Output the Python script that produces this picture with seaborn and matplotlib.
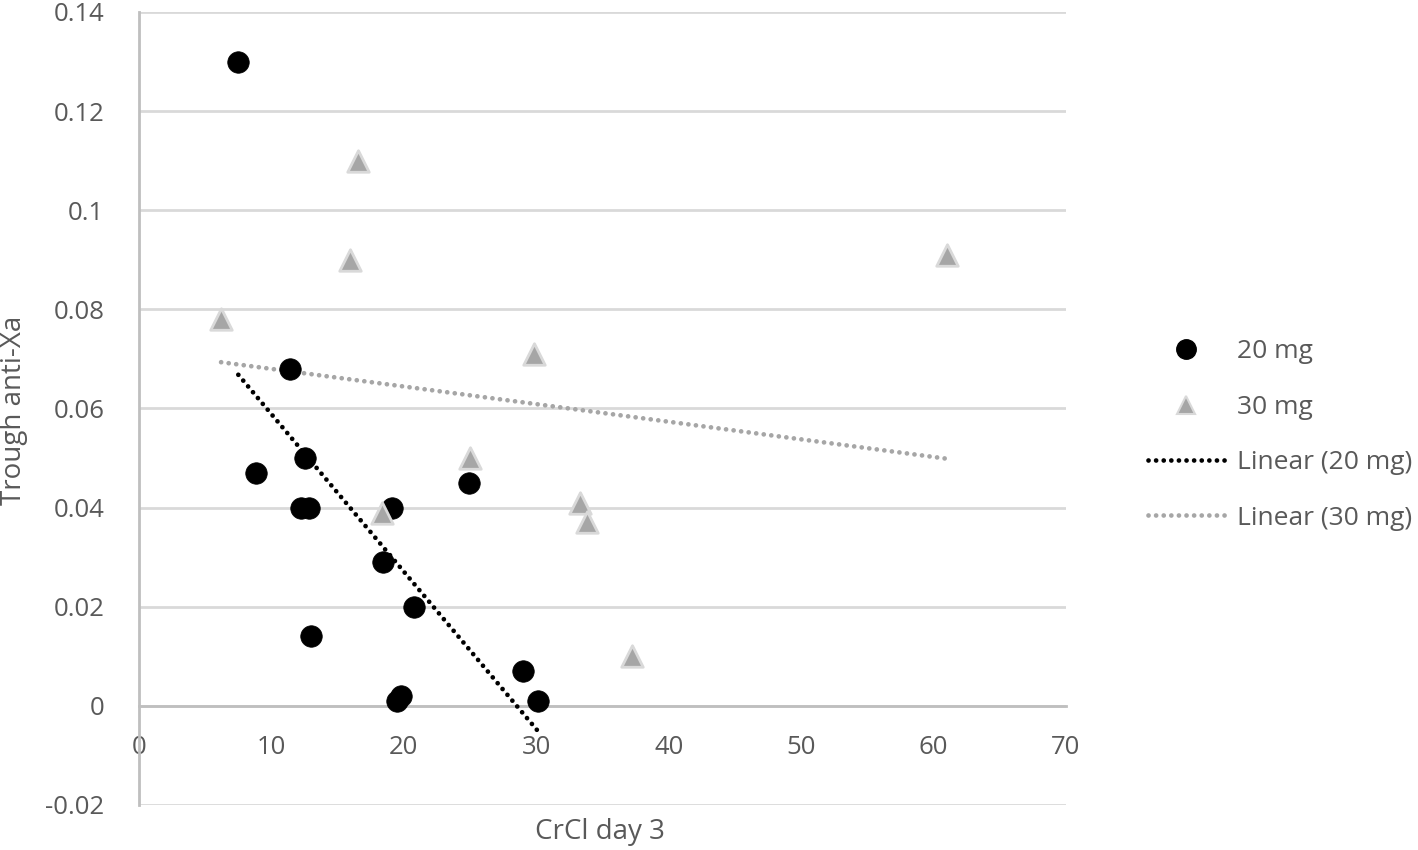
import numpy as np
import pandas as pd
import matplotlib
matplotlib.use("Agg")
import matplotlib.pyplot as plt
import seaborn as sns
from matplotlib.lines import Line2D

# 20 mg group
crcl_20 = [7.5, 11.4, 8.8, 12.5, 12.2, 12.8, 19.1, 18.4, 20.8, 13.0, 19.5, 19.8, 24.9, 29.0, 30.1]
xa_20 = [0.130, 0.068, 0.047, 0.050, 0.040, 0.040, 0.040, 0.029, 0.020, 0.014, 0.001, 0.002, 0.045, 0.007, 0.001]

# 30 mg group
crcl_30 = [6.2, 16.5, 15.9, 18.35, 25.0, 29.8, 33.3, 33.8, 37.2, 61.0]
xa_30 = [0.078, 0.110, 0.090, 0.039, 0.050, 0.071, 0.041, 0.037, 0.010, 0.091]

x_ticks = [0, 10, 20, 30, 40, 50, 60, 70]
y_ticks = [-0.02, 0, 0.02, 0.04, 0.06, 0.08, 0.1, 0.12, 0.14]
y_tick_labels = ["-0.02", "0", "0.02", "0.04", "0.06", "0.08", "0.1", "0.12", "0.14"]
legend_labels = ["20 mg", "30 mg", "Linear (20 mg)", "Linear (30 mg)"]

df20 = pd.DataFrame({"CrCl": crcl_20, "Xa": xa_20})
df30 = pd.DataFrame({"CrCl": crcl_30, "Xa": xa_30})

def trend(df):
    m, b = np.polyfit(df["CrCl"], df["Xa"], 1)
    xs = np.array([df["CrCl"].min(), df["CrCl"].max()])
    return pd.DataFrame({"CrCl": xs, "Xa": m * xs + b})

t20 = trend(df20)
t30 = trend(df30)

sns.set_theme(style="white")
plt.rcParams['font.family'] = ['Open Sans', 'DejaVu Sans']

TXT = "#595959"
AX = "#bfbfbf"
GRID = "#d9d9d9"
DOT = (0, (0.01, 1.6))
LW = 3.4

fig = plt.figure(figsize=(14.18, 8.5), dpi=100)
ax = fig.add_axes([139/1418, 45/850, (1066-139)/1418, (805-12)/850])

ax.set_xlim(0, 70)
ax.set_ylim(-0.02, 0.14)
ax.set_yticks(y_ticks)
ax.set_yticklabels(y_tick_labels)
ax.set_xticks(x_ticks)
ax.set_xticklabels([str(v) for v in x_ticks])
ax.yaxis.grid(True, color=GRID, lw=2, zorder=0)
ax.set_axisbelow(True)

for s in ["top", "right"]:
    ax.spines[s].set_visible(False)
ax.spines["left"].set_color(AX)
ax.spines["left"].set_linewidth(2)
ax.spines["bottom"].set_position(("data", 0))
ax.spines["bottom"].set_color(AX)
ax.spines["bottom"].set_linewidth(2)

ax.tick_params(axis="x", direction="out", length=8, width=2, color=AX,
               labelcolor=TXT, labelsize=18.5, pad=13)
ax.tick_params(axis="y", direction="out", length=9, width=2, color=AX,
               labelcolor=TXT, labelsize=18.5, pad=16)

sns.lineplot(data=t20, x="CrCl", y="Xa", ax=ax, color="black", lw=LW,
             linestyle=DOT, zorder=3)
sns.lineplot(data=t30, x="CrCl", y="Xa", ax=ax, color="#a6a6a6", lw=LW,
             linestyle=DOT, zorder=3)
for ln in ax.lines:
    ln.set_dash_capstyle("round")

sns.scatterplot(data=df20, x="CrCl", y="Xa", ax=ax, color="black", marker="o",
                s=240, edgecolor="black", linewidth=0.5, zorder=4)
sns.scatterplot(data=df30, x="CrCl", y="Xa", ax=ax, color="#a6a6a6", marker="^",
                s=240, edgecolor=GRID, linewidth=2, zorder=4)

ax.set_xlabel("")
ax.set_ylabel("")
fig.text(600/1418, 1 - 832/850, "CrCl day 3", ha="center", va="center",
         fontsize=20, color=TXT)
fig.text(14/1418, 1 - 410/850, "Trough anti-Xa", ha="center", va="center",
         rotation=90, fontsize=20, color=TXT)

handles = [
    Line2D([], [], color="black", marker="o", linestyle="none", markersize=14),
    Line2D([], [], color="#a6a6a6", marker="^", linestyle="none", markersize=13,
           markeredgecolor=GRID, markeredgewidth=1.5),
    Line2D([], [], color="black", lw=LW, linestyle=DOT, dash_capstyle="round"),
    Line2D([], [], color="#a6a6a6", lw=LW, linestyle=DOT, dash_capstyle="round"),
]
leg = fig.legend(handles, legend_labels, loc="center left",
                 bbox_to_anchor=(1135/1418, 1 - 435/850), frameon=False,
                 fontsize=19, labelspacing=1.15, handlelength=2.9, handletextpad=0.45,
                 borderpad=0)
for t in leg.get_texts():
    t.set_color(TXT)

fig.savefig("out.png", dpi=100)
